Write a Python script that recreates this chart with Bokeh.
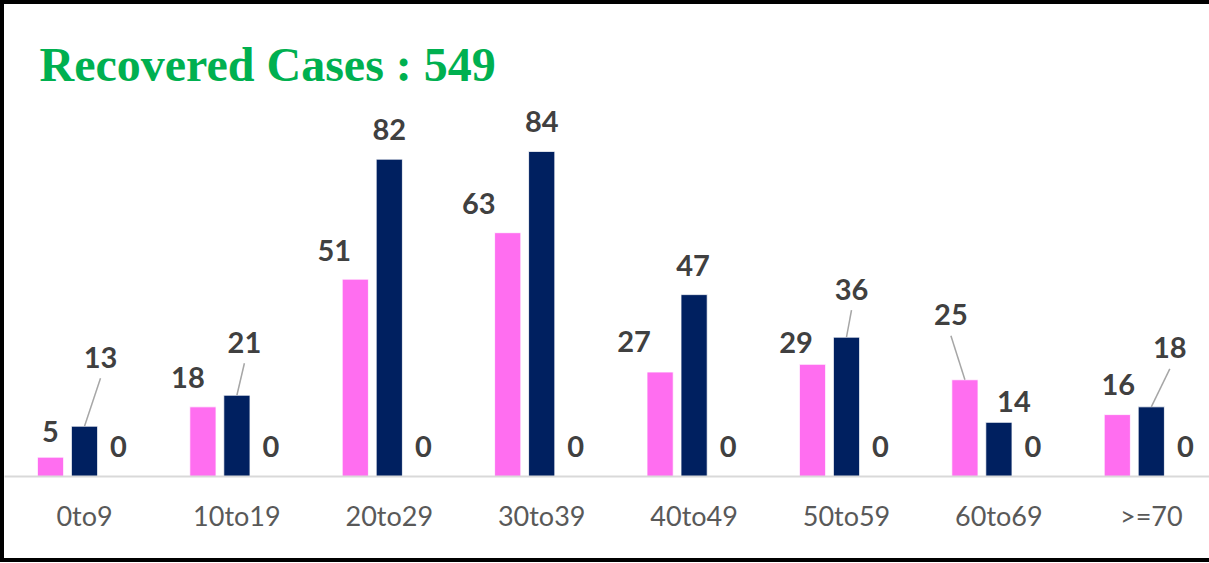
from bokeh.plotting import figure
from bokeh.models import Range1d, FixedTicker, Label, ColumnDataSource
from bokeh.transform import dodge
from bokeh.core.properties import value
from bokeh.embed import file_html
from bokeh.resources import INLINE

# ---------------- data ----------------
categories = ["0to9", "10to19", "20to29", "30to39", "40to49", "50to59", "60to69", ">=70"]
series_pink = [5, 18, 51, 63, 27, 29, 25, 16]
series_navy = [13, 21, 82, 84, 47, 36, 14, 18]
series_third = [0, 0, 0, 0, 0, 0, 0, 0]
title_text = "Recovered Cases : 549"

# ---------------- style ----------------
PINK = "#FF6EF0"
NAVY = "#002060"
LABEL_COLOR = "#404040"
W, H = 1209, 562
PX_X = 152.4          # pixels per category
PX_Y = 3.87           # pixels per unit
BOTTOM = 90
BAR_W = 0.172
OFF = 0.223

# label offsets in px relative to bar top centre (dx, dy ; dy<0 = up)
off_pink = [(0, -26), (-15, -29), (-21, -29), (-29, -29.5), (-26, -30.5), (-16.5, -22), (-14, -65), (1, -30)]
off_navy = [(16, -69), (7.5, -53), (0, -30), (0, -30), (-1, -29.5), (5, -48), (15, -21), (18.5, -59)]
off_third = [(0, -30)] * 8
lead_pink = [False, False, False, False, False, False, True, False]
lead_navy = [True, True, False, False, False, True, False, True]

x_start = -80 / PX_X
x_end = x_start + W / PX_X
y_end = (H - BOTTOM) / PX_Y

p = figure(width=W, height=H, output_backend="svg", toolbar_location=None,
           x_range=Range1d(x_start, x_end), y_range=Range1d(0, y_end),
           y_axis_location=None, min_border_left=0, min_border_right=0,
           min_border_top=0, min_border_bottom=BOTTOM)
p.styles = {"border-style": "solid", "border-color": "black",
            "border-width": "4px 0px 4px 4px"}
p.outline_line_color = None
p.xgrid.visible = False
p.ygrid.visible = False
p.background_fill_color = "white"
p.border_fill_color = "white"

xs = list(range(len(categories)))
src = ColumnDataSource(dict(x=xs, a=series_pink, b=series_navy, c=series_third))

p.vbar(x=dodge("x", -OFF, range=p.x_range), top="a", width=BAR_W, bottom=0,
       source=src, fill_color=PINK, line_color="white", line_width=0.8)
p.vbar(x=dodge("x", 0, range=p.x_range), top="b", width=BAR_W, bottom=0,
       source=src, fill_color=NAVY, line_color="white", line_width=0.8)
p.vbar(x=dodge("x", OFF, range=p.x_range), top="c", width=BAR_W, bottom=0,
       source=src, fill_color="#A5A5A5", line_color=None)

# data labels + leader lines
for vals, offs, shift, leads in [(series_pink, off_pink, -OFF, lead_pink),
                                 (series_navy, off_navy, 0, lead_navy),
                                 (series_third, off_third, OFF, [False] * 8)]:
    bx = [i + shift for i in xs]
    s = ColumnDataSource(dict(x=bx, y=vals, t=[str(v) for v in vals],
                              dx=[o[0] for o in offs], dy=[o[1] for o in offs]))
    p.text(x="x", y="y", text="t", x_offset="dx", y_offset="dy", source=s,
           text_font=value("Lato"), text_font_style="bold", text_font_size="29px",
           text_color=LABEL_COLOR, text_align="center", text_baseline="alphabetic")
    x0, y0, x1, y1 = [], [], [], []
    for i, (v, o, l) in enumerate(zip(vals, offs, leads)):
        if l:
            x0.append(bx[i]); y0.append(v)
            x1.append(bx[i] + o[0] / PX_X); y1.append(v - (o[1] + 21) / PX_Y)
    if x0:
        p.segment(x0=x0, y0=y0, x1=x1, y1=y1, line_color="#A6A6A6", line_width=1.5)

# axis
p.xaxis.ticker = FixedTicker(ticks=xs)
p.xaxis.major_label_overrides = {i: c for i, c in zip(xs, categories)}
p.xaxis.axis_line_color = "#D9D9D9"
p.xaxis.axis_line_width = 2
p.xaxis.major_tick_line_color = None
p.xaxis.minor_tick_line_color = None
p.xaxis.major_label_text_font = "Lato"
p.xaxis.major_label_text_font_size = "27px"
p.xaxis.major_label_text_color = "#595959"
p.xaxis.major_label_standoff = 16

title = Label(x=35, y=412, x_units="screen", y_units="screen", text=title_text,
              text_font="Liberation Serif", text_font_style="bold", text_font_size="48px",
              text_color="#00B050", text_baseline="alphabetic")
p.add_layout(title)

open("out.html", "w").write(file_html(p, INLINE))
